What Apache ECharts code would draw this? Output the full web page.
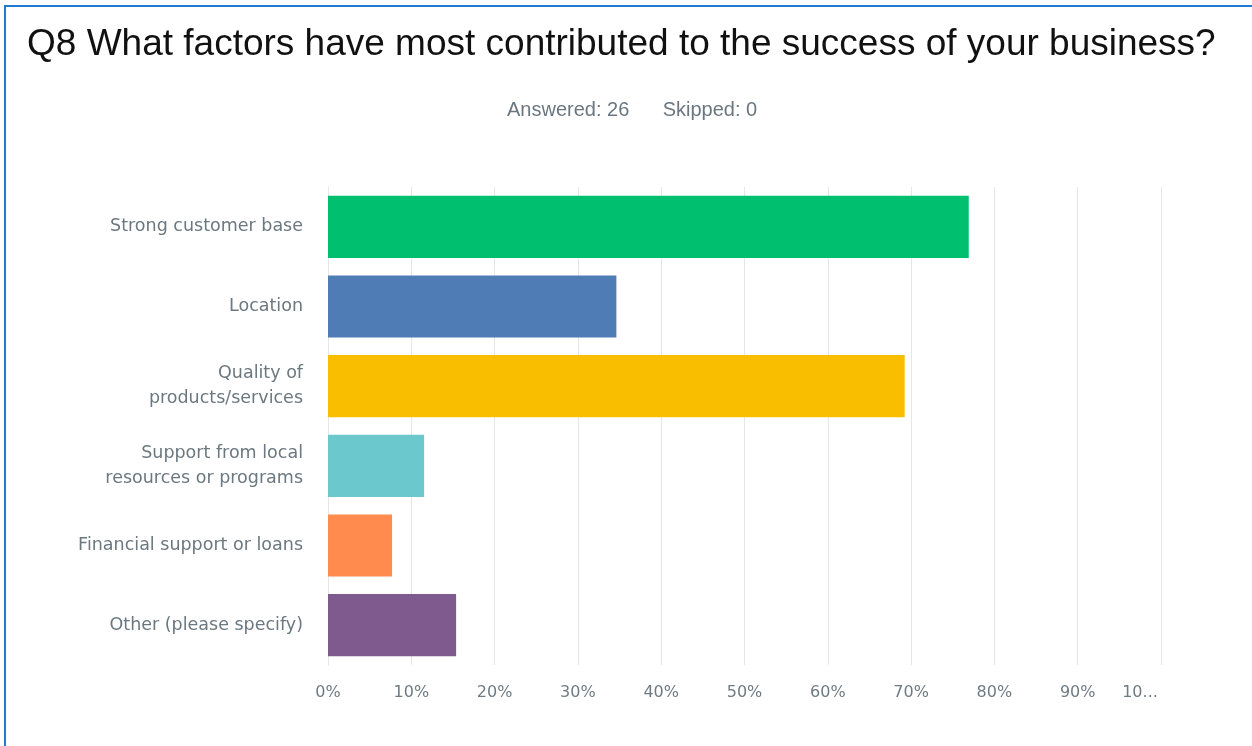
<!DOCTYPE html>
<html>
<head>
<meta charset="utf-8">
<script src="https://cdn.jsdelivr.net/npm/echarts@6/dist/echarts.min.js"></script>
<style>
  html, body { margin: 0; padding: 0; background: #fff; }
  #wrap { position: relative; width: 1252px; height: 746px; overflow: hidden; }
  #frame { position: absolute; left: 4px; top: 5px; width: 1260px; height: 760px;
           border-top: 2px solid #1f7ad1; border-left: 2px solid #1f7ad1; pointer-events: none; }
  #chart { position: absolute; left: 0; top: 0; width: 1252px; height: 746px; }
</style>
</head>
<body>
<div id="wrap">
  <div id="chart"></div>
  <div id="frame"></div>
</div>
<script>
const titleText = 'Q8 What factors have most contributed to the success of your business?';
const subtitleText = 'Answered: 26      Skipped: 0';
const categories = [
  'Strong customer base',
  'Location',
  'Quality of\nproducts/services',
  'Support from local\nresources or programs',
  'Financial support or loans',
  'Other (please specify)'
];
const values = [76.92, 34.62, 69.23, 11.54, 7.69, 15.38];
const colors = ['#00bf6f', '#507cb6', '#f9be00', '#6bc8cd', '#ff8b4f', '#7f5a8f'];
const tickLabels = ['0%', '10%', '20%', '30%', '40%', '50%', '60%', '70%', '80%', '90%', '10...'];

const chart = echarts.init(document.getElementById('chart'), null, { renderer: 'canvas' });
chart.setOption({
  animation: false,
  backgroundColor: '#ffffff',
  title: [
    {
      text: titleText, left: 22, top: 21,
      textStyle: { fontFamily: 'Liberation Sans, Arial, sans-serif', fontSize: 37, fontWeight: 'normal', color: '#111' }
    },
    {
      text: subtitleText, left: 502, top: 95,
      textStyle: { fontFamily: 'Liberation Sans, Arial, sans-serif', fontSize: 20, fontWeight: 'normal', color: '#6b7780' }
    }
  ],
  grid: { left: 328, right: 91, top: 187, bottom: 81, containLabel: false },
  xAxis: {
    type: 'value', min: 0, max: 100, interval: 10,
    axisLine: { show: false }, axisTick: { show: false },
    splitLine: { show: true, lineStyle: { color: '#e6e6e6', width: 1 } },
    axisLabel: {
      margin: 20, color: '#6f7b84', fontSize: 16, fontFamily: 'DejaVu Sans, sans-serif',
      formatter: function (v) {
        const i = Math.round(v / 10);
        return i === 10 ? '{last|' + tickLabels[i] + '}' : tickLabels[i];
      },
      rich: {
        last: { color: '#6f7b84', fontSize: 16, fontFamily: 'DejaVu Sans, sans-serif', padding: [0, 42, 0, 0] }
      }
    }
  },
  yAxis: {
    type: 'category', data: categories, inverse: true,
    axisLine: { show: true, lineStyle: { color: '#e6e6e6', width: 1 } },
    axisTick: { show: false },
    axisLabel: {
      margin: 25, color: '#6b787f', fontSize: 17.5, lineHeight: 25, fontFamily: 'DejaVu Sans, sans-serif', align: 'right'
    }
  },
  series: [{
    type: 'bar',
    data: values.map(function (v, i) { return { value: v, itemStyle: { color: colors[i] } }; }),
    barCategoryGap: '22%'
  }]
});
</script>
</body>
</html>
